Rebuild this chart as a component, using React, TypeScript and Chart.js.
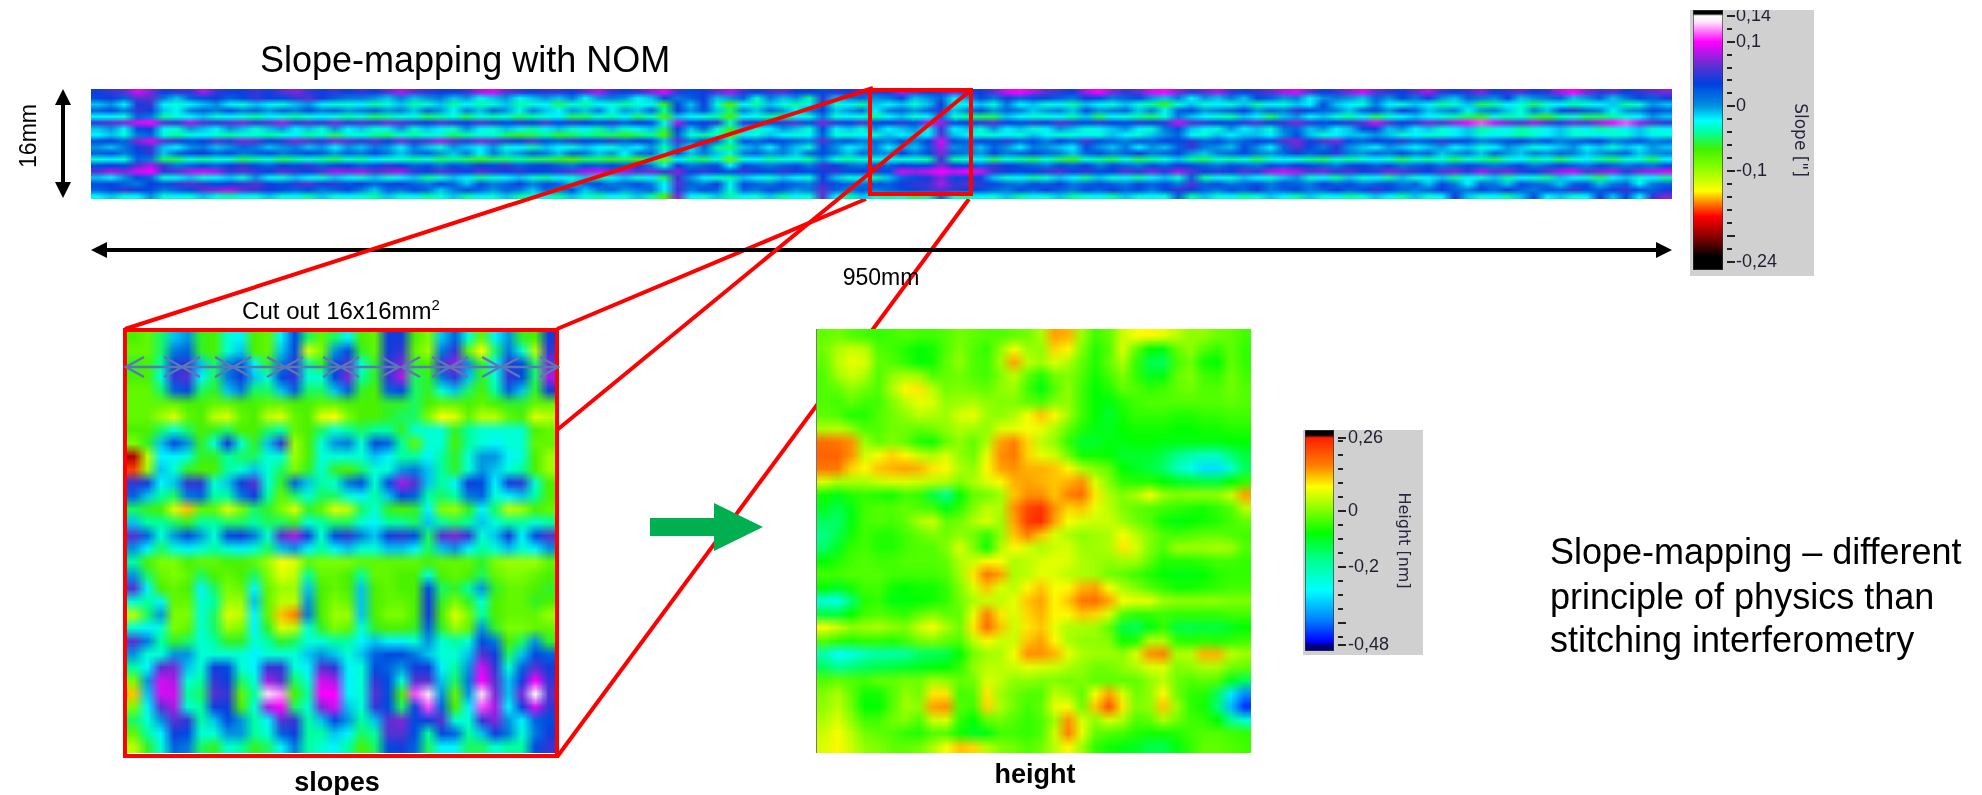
import React, { useEffect, useRef } from "react";
import { Chart, registerables } from "chart.js";
Chart.register(...registerables);

// Slope strip, 0.01 arcsec per unit, 18 rows along 950 mm
const stripRows: number[][] = [
[4,5,6,9,7,4,5,5,8,5,4,4,5,4,6,7,5,4,5,4, 5,4,6,8,6,5,4,4,5,8,9,6,5,4,5,5,4,6,8,5, 4,5,7,9,5,3,4,6,8,5,4,5,6,4,4,3,5,4,6,5, 4,8,6,4,5,7,5,4,6,9,10,8,6,5,4,8,10,7,5,6, 9,10,7,5,6,8,5,4,5,6,8,9,6,4,5,7,9,6,5,4, 6,8,5,4,5,7,4,5,6,4,5,8,10,7,5,6,4,5,6,7],
[3,4,2,6,6,1,-1,2,3,4,2,3,5,4,3,5,6,4,2,1, 1,0,-1,1,-1,0,1,-1,0,-2,-1,0,-2,-1,0,-1,1,-2,0,1, 0,-2,-1,3,1,2,4,-1,0,2,-3,1,-1,0,-4,5,-1,1,2,0, 1,3,-1,0,2,-2,0,3,1,4,2,3,3,2,1,4,3,1,2,3, 0,-1,1,-2,0,-1,1,-1,3,2,0,1,-2,0,1,0,-1,2,0,3, 1,4,0,-1,2,1,0,3,-1,0,1,2,-1,0,2,-1,1,3,2,4],
[-1,0,-2,4,5,-2,-3,-2,-1,0,-2,-3,-1,-2,-3,-1,0,-2,-3,-3, -2,-4,-3,-1,-4,-3,-1,-4,-2,-4,-3,-1,-4,-3,-2,-5,-3,-4,-2,-3, -4,-3,-2,-6,3,-1,4,-3,-7,-2,-4,-1,-3,-4,-2,3,-3,-2,-4,-1, -2,-1,-3,-1,4,-3,-2,-1,-3,1,-2,-1,-3,-2,-4,-1,-2,-3,-1,-3, -4,-6,-3,-1,-3,-2,-3,-1,-4,-2,-3,-1,-2,3,-1,-2,-3,1,-2,-3, -1,-2,-4,-3,-1,-5,-4,-2,-3,-5,-3,-2,-4,-3,-2,-1,-4,-3,0,-1],
[2,3,1,5,4,-1,-2,1,2,1,3,1,2,0,2,1,3,1,2,0, 1,2,0,1,-1,2,0,-2,1,-1,2,0,-2,1,-1,-2,0,-1,1,-2, 0,-1,2,-4,4,0,3,-1,-5,1,-1,2,0,-2,1,4,-1,0,2,-2, 1,2,0,2,5,-1,1,3,0,2,1,-1,0,1,-1,3,0,1,2,-1, 1,-2,2,3,0,1,2,4,0,2,1,5,3,2,1,-1,2,3,0,4, 2,-1,0,1,-2,0,1,-1,-3,1,-1,3,5,2,1,-2,0,1,3,2],
[-2,-2,-3,2,1,-4,-3,-2,-1,-3,-2,-3,-4,-2,-3,-4,-3,-2,-3,-4, -3,-5,-4,-3,-3,-5,-4,-3,-5,-3,-4,-3,-5,-4,-3,-2,-5,-5,-3,-4, -2,-5,-3,-7,-1,-2,-3,-4,-7,-2,-3,-4,-5,-2,-3,1,-3,-2,-3,-4, -2,-1,-3,-2,2,-3,-4,-5,-5,-1,-2,-3,-3,-2,-4,-1,-5,-2,-3,-4, -5,-3,1,-1,-2,-3,-4,-1,-2,-5,-1,0,-2,-1,-3,-4,-2,-5,-3,-2, -1,-2,-3,-4,-5,-6,-3,-4,-3,-5,-6,-4,-3,-5,-5,-4,-3,-2,0,-1],
[5,6,7,9,10,6,5,8,6,5,6,7,5,6,8,5,6,5,7,5, 6,5,7,6,5,4,6,5,4,6,5,3,5,4,6,3,5,4,3,5, 2,4,3,-2,8,3,4,5,-3,5,4,3,5,6,3,7,5,4,6,3, 4,5,3,8,8,3,4,5,6,4,3,5,4,6,5,3,5,4,3,5, 4,5,9,6,5,4,3,5,6,4,5,7,5,3,4,5,6,9,6,4, 5,7,6,8,10,11,9,7,6,8,6,5,7,6,8,10,11,8,6,5],
[-1,0,-2,3,4,-2,-3,0,-1,-2,0,-1,-3,-1,0,-2,-1,-3,0,-2, -1,-3,-2,0,-3,-1,-2,-3,0,-2,-3,-1,-2,-4,-2,-1,-3,-2,-4,-1, -3,-2,-1,-5,4,-1,2,-3,-6,-1,-3,-2,0,-1,-3,3,-2,-1,-3,0, -2,-1,0,-2,5,-2,-1,-3,0,-2,-1,-3,-2,0,-1,-3,-2,-1,0,-2, -3,1,3,-1,-2,-3,0,-2,-1,-3,1,2,-1,0,-2,-1,3,4,-1,0, -2,-1,-3,-2,-1,-4,-3,-2,-4,-3,-2,-1,-3,-2,-4,-3,-2,-1,-3,-2],
[-2,-1,-3,1,2,-3,-4,-3,-2,-3,-4,-3,-3,-4,-3,-2,-4,-3,-5,-3, -3,-4,-5,-3,-4,-3,-3,-5,-4,-3,-3,-5,-6,-5,-4,-6,-5,-4,-5,-5, -6,-5,-4,-7,2,-3,-4,-3,-7,-2,-3,-1,-2,-3,-2,2,-3,-3,-2,-3, -1,-2,-1,-2,6,-1,-2,-3,-3,-2,-3,-1,-2,-3,-3,-2,-3,-1,-2,-3, -1,0,2,-2,-3,-1,-2,-1,-1,-2,0,3,-1,-3,-2,-1,-1,0,-1,-3, -2,-3,-3,-2,-1,-3,-2,-3,-4,-3,-2,-1,-3,-3,-2,-3,-3,-1,-2,-3],
[3,4,2,7,9,6,5,3,4,6,5,7,6,4,5,7,6,5,7,6, 5,6,4,7,5,6,8,6,5,7,6,5,4,6,3,2,5,4,3,5, 2,4,3,-1,6,1,3,2,-3,3,2,4,3,2,1,6,2,3,1,2, 1,3,1,4,9,3,2,4,3,5,2,3,1,4,2,6,3,2,1,3, 2,4,3,5,2,3,1,2,4,3,6,7,4,6,7,3,2,4,3,5, 2,3,5,4,3,1,2,3,4,2,3,1,2,3,4,1,2,3,1,2],
[0,-1,1,4,5,-1,-2,0,1,-1,0,2,1,-1,0,1,-1,0,-2,0, -1,1,0,-2,1,-1,-3,0,-1,-2,0,-3,-2,-4,-1,-2,-3,-1,-2,-3, -1,-2,0,-4,1,-2,2,-4,-5,-1,0,-2,1,-1,-3,3,0,-2,-1,1, -2,0,-1,2,8,0,1,-1,2,0,-2,1,0,-1,-2,3,0,-1,1,-2, 0,-1,2,5,1,0,-1,3,0,-2,2,6,3,1,4,0,-1,-2,0,-1, -2,-1,0,-2,-1,-3,-2,0,-1,-3,-2,-1,0,-2,-1,-3,-1,-2,0,-1],
[2,3,1,3,5,-1,2,3,4,2,3,1,2,3,1,2,3,2,0,2, 1,3,1,-1,1,2,0,-1,1,-2,1,-1,0,2,1,-1,2,1,-1,0, -2,1,2,-2,3,-1,1,-1,-3,1,2,0,1,-1,2,3,1,-1,2,1, 0,4,1,3,7,2,1,0,3,1,2,3,2,1,-1,2,3,1,2,4, 1,2,3,0,-1,1,2,3,1,0,2,4,2,3,5,1,0,2,1,3, 1,2,-1,0,1,-1,2,0,-1,1,0,2,1,-1,0,1,2,-1,0,1],
[-3,-2,-3,2,1,-5,-5,-3,-4,-3,-3,-5,-4,-3,-5,-4,-3,-4,-5,-3, -4,-2,-3,-3,-4,-3,-5,-4,-5,-6,-5,-5,-4,-5,-5,-6,-7,-5,-5,-6, -5,-7,-4,-8,-2,-4,-5,-3,-8,-3,-2,-4,-3,-3,-4,0,-3,-4,-3,-3, -2,-3,-3,-4,5,-4,-3,-2,-5,-3,-4,-5,-3,-5,-6,-3,-4,-5,-3,-5, -4,-3,-1,-4,-5,-3,-4,-3,-5,-3,-2,-3,-4,-5,-3,-4,-3,-2,-3,-5, -3,-4,-3,-5,-3,-4,-5,-3,-2,-4,-3,-5,-3,-2,-4,-5,-3,-3,-5,-2],
[3,4,3,6,8,5,1,2,3,2,4,5,3,2,4,3,5,2,3,4, 2,3,5,4,2,3,1,3,2,4,3,5,2,3,4,2,1,3,2,3, 2,4,1,-3,4,1,2,3,-2,3,2,1,2,3,1,5,4,2,1,3, 2,4,3,3,7,4,3,2,5,4,3,2,1,3,2,4,1,3,2,1, 3,2,4,3,2,1,3,2,1,3,2,4,3,2,1,3,4,2,3,1, 2,3,1,2,3,2,1,2,3,1,2,3,2,1,3,2,1,2,1,3],
[6,8,7,9,10,5,6,8,9,8,5,6,5,4,6,5,4,6,8,7, 8,6,7,8,5,4,6,5,4,6,5,4,5,4,3,5,6,8,9,7, 8,6,7,5,7,4,5,4,3,5,4,3,5,4,3,4,5,3,4,5, 3,9,8,9,10,9,10,9,5,4,3,4,5,6,4,5,3,4,6,5, 7,5,8,6,4,5,4,6,5,8,9,8,6,7,5,6,4,5,7,6, 5,4,6,7,5,8,6,7,5,4,6,8,9,6,7,8,5,7,8,9],
[-1,-2,0,3,2,-3,-2,-1,-3,-2,-1,-3,0,-2,-3,-1,-2,-3,-1,-2, -3,-1,-3,-2,-1,-4,-3,-1,-2,-4,-3,-2,-1,-3,-4,-2,-3,-1,-4,-2, -1,-3,-2,-5,5,0,-2,-3,-4,-1,-2,-3,-1,-2,-3,4,-1,-3,-2,-4, -1,2,3,4,7,3,4,3,-1,-3,-2,-4,-3,-1,-2,-4,-1,-3,-2,-4, -2,-1,-3,2,-4,-2,-3,-1,-2,-3,-1,0,-3,-2,-4,-1,-3,-2,-4,-1, -3,-2,-1,-4,-2,-3,-1,-4,-2,-3,-4,-1,-2,-3,-5,-2,-1,-3,-2,-4],
[3,4,2,1,4,3,5,6,5,3,4,5,6,4,3,5,6,4,5,3, 4,2,3,4,2,1,3,2,-1,3,1,2,4,1,3,2,-1,2,3,1, 2,3,1,-2,6,2,1,4,-2,3,2,1,3,2,1,5,3,2,1,3, 2,4,5,5,8,5,6,5,3,2,1,3,2,4,1,2,3,2,1,3, 2,3,1,6,2,3,1,2,3,1,3,2,1,4,2,3,1,2,3,1, 2,-1,3,1,-2,2,1,-1,3,2,1,-1,2,3,-1,1,2,-2,1,2],
[2,3,5,4,3,1,2,3,6,7,8,6,5,4,3,2,3,1,2,3, 1,-1,2,1,3,2,-1,1,3,2,0,2,1,-1,2,1,3,-1,1,2, 0,1,2,-2,5,1,3,2,-3,2,1,3,2,0,1,6,2,1,3,1, 2,3,4,5,6,5,4,3,2,1,3,2,4,2,1,3,2,4,2,3, 1,3,5,4,2,1,3,2,4,1,2,3,1,2,4,2,3,5,3,2, 1,2,4,2,1,3,2,4,2,1,3,2,5,3,2,4,5,3,2,4],
[-2,-1,-3,-2,0,-3,-2,-3,-1,-3,-4,-2,-3,-1,-3,-2,-4,-1,-3,-2, -3,-4,-1,-3,-2,-4,-3,-1,-4,-2,-3,-1,-4,-3,-2,-4,-1,-3,-4,-2, -3,-1,-4,-7,7,-2,-3,-1,-4,-2,-3,-1,-4,-2,-3,6,-2,-4,-1,-3, -4,-3,-5,-4,2,-3,-4,-2,-3,-1,-4,-2,-3,-1,-4,-3,-2,-4,-1,-3, -2,-3,2,-4,-1,-3,-2,-4,-3,-1,-2,-4,-1,-3,-2,-4,-3,-1,-2,-4, -1,-3,-2,4,-1,-3,-2,-4,-1,3,-2,-1,-3,-2,4,-1,3,-2,5,7],
];

// Cut-out slope map, 0.01 arcsec per unit
const cutoutRows: number[][] = [
[-7,-8,-5,-1,0,-6,-7,-3,-2,-7,-8,-2,3,-5,-8,-5,-2,-7,-8,4,4,-7,-9,-1,2,-3,-8,-2,0,-6,-7,4],
[-8,-8,-5,1,2,-6,-7,-3,-1,-7,-8,-1,3,-12,-9,0,3,-6,-8,4,5,-8,-10,1,5,-8,-13,-5,1,-3,-11,5],
[-6,-7,-4,4,5,-1,-5,1,3,-2,-6,1,5,-4,-6,3,6,-3,-6,5,7,-6,-7,5,8,0,-6,-2,5,3,-5,7],
[-7,-7,-3,5,6,-2,-5,1,4,-1,-3,3,5,-3,-3,3,7,-4,-6,5,8,-5,-6,1,5,-1,-6,-3,5,3,-5,8],
[-8,-8,-5,2,3,-5,-6,-1,1,-5,-5,-1,2,-5,-5,-1,2,-6,-7,2,3,-5,-6,-3,-1,-5,-7,-4,2,-1,-6,4],
[-8,-8,-8,-8,-7,-7,-8,-8,-7,-7,-8,-8,-7,-7,-8,-8,-7,-7,-7,-6,-6,-5,-7,-8,-8,-7,-8,-7,-6,-6,-8,-8],
[-8,-8,-10,-12,-8,-7,-11,-12,-8,-7,-11,-12,-8,-7,-12,-13,-9,-7,-7,-6,-5,-5,-9,-13,-12,-8,-11,-11,-8,-7,-12,-11],
[-7,-7,-5,-3,-5,-7,-6,-5,-7,-7,-5,-4,-8,-7,-5,-3,-4,-5,-4,-4,-6,-3,-3,-3,-6,-4,-3,-3,-3,-3,-7,-8],
[-9,-6,-1,3,0,-6,-3,4,-3,-6,-1,5,-10,-7,-3,0,1,-3,3,2,-4,-8,-3,-3,-7,-4,-3,-2,-3,-3,-8,-8],
[-19,-11,-2,-2,-3,-6,-6,-4,-5,-5,-3,-3,-10,-7,-3,-3,-3,-3,-1,-2,-4,-4,-2,-4,-6,-3,0,0,-2,-3,-7,-10],
[-16,-10,-1,-3,-6,-7,-7,-4,-3,-1,-3,-5,-9,-6,-3,-6,-7,-5,-3,-3,0,1,-1,-4,-6,-3,0,-1,-3,-4,-7,-10],
[5,4,-2,-1,5,5,-3,-1,4,6,-3,-6,2,-1,-4,-3,1,3,-3,3,8,6,-1,-4,-2,4,3,-2,4,5,-3,-7],
[2,-1,-4,-5,1,2,-4,-4,1,4,-4,-8,-5,-3,-5,-5,-3,-2,-4,-1,3,2,-4,-5,-4,1,2,-3,-2,-1,-4,-7],
[-5,-6,-7,-12,-14,-8,-8,-12,-9,-5,-6,-9,-12,-6,-8,-12,-11,-5,-3,-6,-7,-6,-2,-9,-10,-6,-2,-5,-11,-10,-7,-8],
[-1,-4,-4,-5,-6,-4,-4,-5,-5,-4,-5,-5,-6,-3,-4,-5,-5,-3,-2,-4,-4,-5,-1,-4,-5,-4,-1,-3,-4,-4,-3,-4],
[6,2,-3,0,3,0,-3,3,4,1,-3,6,8,4,-3,3,5,1,-1,4,5,3,-5,6,7,5,-3,-1,4,-2,3,6],
[0,-2,-5,-3,-2,-3,-4,-3,-2,-3,-5,-1,0,-2,-4,-2,-1,-3,-3,-1,-1,-2,-5,-1,0,-2,-4,-3,-1,-3,-2,0],
[-4,-7,-9,-9,-7,-8,-8,-7,-7,-8,-10,-13,-12,-8,-9,-9,-9,-8,-8,-8,-8,-8,-7,-8,-8,-8,-6,-9,-10,-10,-10,-8],
[0,-5,-8,-9,-8,-5,-7,-8,-7,-5,-9,-12,-11,-4,-8,-8,-7,-4,-8,-8,-7,-7,-3,-7,-8,-7,-5,-8,-9,-9,-8,-7],
[6,-2,-7,-8,-7,-2,-5,-9,-8,-2,-8,-10,-10,-1,-7,-8,-7,-1,-7,-8,-7,-7,3,-5,-6,-4,0,-6,-8,-8,-7,-6],
[-3,-4,-2,-8,-8,-3,-4,-10,-10,-1,-8,-11,-11,0,-7,-9,-8,-1,-7,-8,-8,-7,4,-6,-9,-6,-3,-7,-8,-8,-6,-7],
[-11,-5,0,-9,-9,-3,-5,-12,-11,-2,-8,-14,-15,1,-7,-10,-10,-1,-7,-9,-9,-7,4,-7,-12,-9,-4,-7,-8,-8,-8,-10],
[-3,-2,-3,-9,-8,-3,-5,-10,-9,-2,-6,-12,-11,-3,-6,-9,-8,-3,-6,-7,-7,-6,2,-6,-10,-8,0,-6,-9,-9,-8,-8],
[6,1,-4,-6,-5,-3,-4,-6,-6,-3,-4,-6,-5,-3,-3,-4,-4,-2,-1,-2,-2,-3,0,-3,-4,-3,3,1,-7,-5,0,-6],
[0,-3,-3,0,0,-3,-3,-3,-3,-2,-3,-3,-3,-1,0,-1,-3,-1,2,3,3,1,-1,-3,-3,-1,6,4,-5,-1,3,2],
[-4,-2,6,7,-1,-3,4,3,-3,-2,5,5,-3,-2,6,5,-2,-3,3,2,0,4,4,-2,-4,0,9,5,-3,2,6,4],
[-9,0,9,8,-3,-4,5,4,-5,-3,8,6,-5,-3,9,8,-2,-3,5,3,-3,6,6,-1,-5,1,10,6,-1,4,10,5],
[-14,-1,9,9,-4,-5,6,5,-8,-4,13,12,-7,-4,10,10,-2,-3,6,3,-7,11,13,0,-8,0,13,7,-1,7,14,6],
[-9,-2,6,8,-3,-4,4,4,-7,-3,8,10,-5,-3,7,9,-1,-3,5,3,-5,4,11,2,-7,-2,11,8,-2,4,9,5],
[-5,-3,0,6,5,-4,-1,3,0,-4,-2,6,5,-4,-1,3,0,-4,-1,6,7,3,4,6,-3,-3,5,7,0,-2,2,3],
[-8,-4,-2,4,3,-3,-3,0,0,-4,-3,2,4,-4,-4,-1,-2,-5,-4,6,6,3,-4,3,2,-4,-1,4,1,-3,1,4],
[-11,-6,-3,2,1,-5,-6,-3,-4,-6,-5,-2,1,-4,-3,-2,-4,-7,-5,3,4,2,-5,-2,-2,-5,-5,-3,-4,-4,3,5],
];

// Height map, 0.01 nm per unit
const heightRows: number[][] = [
[-2,-1,-3,-4,-5,-4,-3,-4,-4,-3,-1,-2,-3,-3,-2,-1,3,14,13,2,-4,-2,5,8,9,7,4,1,1,-1,-2,-4],
[-1,3,5,4,-3,-4,-6,-8,-7,-3,0,-3,-5,1,8,2,1,11,9,0,-6,-3,6,-2,-8,-9,-2,1,-3,-5,-2,-5],
[-2,4,7,6,-2,-3,-5,-8,-7,-2,1,-3,-4,2,14,4,2,6,3,-2,-6,-2,3,-5,-13,-14,-4,-1,-7,-8,-2,-5],
[-3,2,5,3,-3,1,3,2,-3,-2,-1,-3,-4,0,4,-2,-6,-1,0,-3,-7,-4,0,-5,-10,-9,-2,0,-4,-5,-1,-4],
[-3,-2,1,-1,-3,3,9,10,4,-1,0,-1,-2,1,2,-4,-9,-3,1,-4,-8,-6,-2,-3,-5,-4,-2,-1,-3,-3,-1,-3],
[-3,-4,-2,-4,-4,0,4,7,6,1,2,3,1,0,0,-2,-3,0,1,-4,-8,-9,-6,-4,-3,-3,-3,-3,-3,-3,-2,-3],
[-2,-3,-6,-6,-3,-1,1,4,3,2,6,7,2,1,3,8,12,9,2,-4,-8,-11,-7,-5,-5,-5,-6,-6,-5,-5,-4,-4],
[3,4,1,-3,-3,-1,-1,-2,-1,1,3,2,1,6,7,8,7,3,-2,-6,-9,-10,-8,-7,-7,-7,-8,-8,-7,-7,-6,-6],
[18,17,15,2,-2,0,-2,-6,-7,-2,1,-2,3,14,16,11,4,1,-5,-11,-11,-9,-9,-8,-8,-9,-9,-9,-9,-9,-8,-8],
[19,19,15,5,8,11,9,5,3,6,1,-1,7,15,17,11,7,5,-1,-7,-7,-8,-11,-11,-11,-13,-17,-20,-22,-22,-16,-12],
[17,17,11,9,12,13,14,13,10,9,3,1,9,14,15,13,13,12,9,3,0,-2,-8,-10,-12,-15,-22,-26,-31,-31,-24,-14],
[6,3,3,3,5,6,6,5,4,3,0,3,6,9,13,14,13,12,13,15,6,0,-5,-6,-6,-8,-10,-11,-12,-12,-8,-5],
[-7,-9,-6,-5,-6,-7,-4,-5,-12,-18,-8,-2,-1,2,12,15,15,12,16,18,10,3,0,3,8,2,0,1,1,1,5,14],
[-10,-13,-9,-4,-3,-3,-2,-3,-4,-9,-5,0,4,3,15,22,24,15,11,12,7,4,0,-2,-3,-4,-5,-6,-7,-5,-3,4],
[-14,-15,-9,-4,-3,-4,-2,3,5,-2,-1,3,6,2,14,23,25,14,8,6,5,5,2,-1,-3,-7,-9,-8,-7,-6,-4,-2],
[-17,-13,-7,-4,-6,-6,-4,-2,0,-1,1,-1,-5,1,12,16,12,6,3,1,2,3,8,4,0,-3,-4,-3,-2,-2,-3,-4],
[-15,-10,-5,-4,-6,-6,-4,-3,-3,0,6,0,-7,3,9,6,3,5,6,2,2,3,10,6,0,-3,2,2,2,3,2,-3],
[-8,-6,-4,-3,-4,-4,-3,-3,-3,-2,3,5,9,8,3,4,6,7,6,3,2,1,2,2,-2,-6,-6,-6,-5,-4,-4,-5],
[-4,-4,-3,-3,-3,-4,-4,-4,-4,-3,2,10,17,14,3,4,7,6,4,3,2,-1,-2,-4,-6,-8,-9,-9,-8,-6,-5,-5],
[-8,-10,-7,-4,-4,-7,-8,-7,-7,-5,0,6,12,6,4,9,12,8,9,13,14,8,3,0,-3,-5,-7,-7,-6,-5,-4,-4],
[-25,-27,-16,-6,-5,-9,-9,-8,-7,-5,-1,3,5,4,7,12,14,9,12,17,18,14,8,7,7,2,1,1,1,1,0,0],
[-12,-12,-8,-4,-3,-4,-5,-2,0,-2,-2,7,16,10,6,11,13,9,9,12,11,6,-3,-5,-5,-4,-5,-5,-5,-5,-4,-4],
[8,5,1,2,3,1,0,5,8,3,-1,10,18,12,5,10,12,7,3,3,2,-2,-12,-14,-9,-5,-12,-13,-12,-12,-10,-8],
[-3,-5,-6,-5,-5,-6,-4,-1,0,-2,-3,4,9,5,5,12,14,9,3,1,1,0,-7,-6,3,3,-5,-6,-5,-6,-5,-4],
[-21,-28,-26,-22,-20,-20,-19,-15,-14,-13,-8,-1,2,3,8,15,15,13,7,3,2,2,1,6,15,16,3,4,13,13,4,2],
[-14,-18,-16,-14,-13,-12,-11,-10,-9,-8,-5,1,4,4,5,7,6,5,3,1,-1,-1,1,3,6,6,0,1,3,3,-1,-2],
[-3,-2,-3,-4,-2,-2,-1,-1,2,1,-2,-1,6,4,1,1,0,0,-1,0,-2,-2,-2,-2,1,4,-1,-3,-2,-3,-10,-14],
[0,3,-2,-7,-7,-3,1,-1,10,10,-4,-3,10,2,-1,-3,-3,4,2,-2,8,14,6,-1,1,9,-1,-5,-6,-14,-30,-38],
[1,4,-1,-8,-8,-3,2,1,14,15,-3,-4,11,3,-1,-4,-2,7,8,-1,12,21,10,0,1,12,2,-5,-7,-16,-34,-44],
[3,6,1,-4,-4,-1,0,-3,5,6,-5,-8,-2,-1,-3,-5,-3,2,15,6,1,6,3,-3,-2,3,-1,-4,-5,-8,-18,-24],
[5,8,4,-1,-2,-3,-5,-6,-3,-3,-7,-10,-9,-4,-4,-5,-3,5,16,7,-2,-3,-4,-6,-7,-7,-6,-4,-3,-3,-4,-5],
[6,9,5,1,0,-2,-2,-1,3,8,12,11,4,0,-1,-3,-1,4,9,2,-5,-7,-9,-10,-13,-13,-9,-5,-2,-2,-3,-4],
];

type Stop = [number, [number, number, number]];

const slopeStops: Stop[] = [
  [15, [0,0,0]], [14.3, [0,0,0]], [14, [255,255,255]], [13, [255,225,250]], [10, [255,0,255]],
  [6.3, [96,48,208]], [3.5, [0,64,224]], [0.1, [0,144,224]], [-2.2, [0,255,255]],
  [-4, [0,255,160]], [-6.6, [64,240,0]], [-9.2, [128,255,0]], [-13.1, [255,255,0]],
  [-14.7, [255,144,0]], [-17, [255,0,0]], [-20, [144,0,0]], [-23.2, [0,0,0]], [-26, [0,0,0]],
];
const heightStops: Stop[] = [
  [29, [0,0,0]], [27, [0,0,0]], [26, [255,32,0]], [16, [255,128,0]], [8.6, [255,255,0]],
  [0, [128,255,0]], [-8, [0,255,0]], [-17.6, [0,255,144]], [-28.3, [0,255,255]],
  [-39, [0,128,255]], [-46.8, [0,0,255]], [-48, [0,0,120]], [-50, [0,0,120]],
];

const slopeTicks = [14,12,10,8,6,4,2,0,-2,-4,-6,-8,-10,-12,-14,-16,-18,-20,-22,-24];
const slopeLabels: Record<number,string> = { 14:"0,14", 10:"0,1", 0:"0", [-10]:"-0,1", [-24]:"-0,24" };
const slopeMajor = [14,10,0,-10,-20,-24];
const heightTicks = [26,25,20,15,10,5,0,-5,-10,-15,-20,-25,-30,-35,-40,-45,-48];
const heightLabels: Record<number,string> = { 26:"0,26", 0:"0", [-20]:"-0,2", [-48]:"-0,48" };
const heightMajor = [26,0,-20,-40,-48];

const FONT = '"Liberation Sans", Arial, sans-serif';

function colorAt(stops: Stop[], v: number): [number, number, number] {
  if (v >= stops[0][0]) return stops[0][1];
  for (let i = 1; i < stops.length; i++) {
    if (v >= stops[i][0]) {
      const [a, ca] = stops[i - 1];
      const [b, cb] = stops[i];
      const t = (v - b) / (a - b);
      return [0, 1, 2].map((k) => cb[k] + (ca[k] - cb[k]) * t) as [number, number, number];
    }
  }
  return stops[stops.length - 1][1];
}

function toCells(rows: number[][]) {
  const cells: { x: number; y: number; v: number }[] = [];
  rows.forEach((row, y) => row.forEach((v, x) => cells.push({ x, y, v })));
  return cells;
}

const heatPlugin = (stops: Stop[], cols: number, nrows: number) => ({
  id: "heatGrid",
  beforeDatasetsDraw(chart: any) {
    const off = document.createElement("canvas");
    off.width = cols;
    off.height = nrows;
    const oc = off.getContext("2d")!;
    const img = oc.createImageData(cols, nrows);
    for (const d of chart.data.datasets[0].data) {
      const c = colorAt(stops, d.v);
      const i = (d.y * cols + d.x) * 4;
      img.data[i] = c[0]; img.data[i + 1] = c[1]; img.data[i + 2] = c[2]; img.data[i + 3] = 255;
    }
    oc.putImageData(img, 0, 0);
    const { x, y } = chart.scales;
    const x0 = x.getPixelForValue(-0.5), x1 = x.getPixelForValue(cols - 0.5);
    const y0 = y.getPixelForValue(-0.5), y1 = y.getPixelForValue(nrows - 0.5);
    const ctx = chart.ctx;
    ctx.save();
    ctx.imageSmoothingEnabled = true;
    ctx.imageSmoothingQuality = "low";
    ctx.drawImage(off, x0, y0, x1 - x0, y1 - y0);
    ctx.restore();
  },
});

function Heat({ rows, stops, left, top, width, height }: any) {
  const ref = useRef<HTMLCanvasElement>(null);
  useEffect(() => {
    const cols = rows[0].length;
    const chart = new Chart(ref.current!, {
      type: "scatter",
      data: { datasets: [{ data: toCells(rows), pointRadius: 0 }] },
      options: {
        animation: false, responsive: false, devicePixelRatio: 1,
        layout: { padding: 0 },
        plugins: { legend: { display: false }, tooltip: { enabled: false } },
        scales: {
          x: { type: "linear", display: false, min: -0.5, max: cols - 0.5 },
          y: { type: "linear", display: false, reverse: true, min: -0.5, max: rows.length - 0.5 },
        },
      },
      plugins: [heatPlugin(stops, cols, rows.length)],
    } as any);
    return () => chart.destroy();
  }, []);
  return <canvas ref={ref} width={width} height={height} style={{ position: "absolute", left, top, width, height }} />;
}

function ColorBar({ stops, ticks, labels, major, title, left, top, width, height, barLeft, axisWidth, min, max, padTop, padBottom, titlePad, labelPad, titleSize }: any) {
  const ref = useRef<HTMLCanvasElement>(null);
  useEffect(() => {
    const tickPlugin = {
      id: "barTicks",
      afterLayout(chart: any) {
        const y = chart.scales.y;
        const g = chart.ctx.createLinearGradient(0, y.getPixelForValue(max), 0, y.getPixelForValue(min));
        for (const [v, col] of stops as Stop[]) {
          const p = Math.min(1, Math.max(0, (max - v) / (max - min)));
          g.addColorStop(p, `rgb(${col[0]},${col[1]},${col[2]})`);
        }
        chart.data.datasets[0].backgroundColor = g;
      },
      beforeDraw(chart: any) {
        const c = chart.ctx;
        c.save();
        c.fillStyle = "#d0d0d0";
        c.fillRect(0, 0, chart.width, chart.height);
        c.restore();
      },
      afterDraw(chart: any) {
        const c = chart.ctx, y = chart.scales.y, x0 = chart.chartArea.right + 4;
        c.save();
        c.fillStyle = "#222";
        for (const t of ticks) {
          const py = Math.round(y.getPixelForValue(t));
          c.fillRect(x0, py - 1, major.includes(t) ? 8 : 5, 2);
        }
        c.restore();
      },
    };
    const chart = new Chart(ref.current!, {
      type: "bar",
      data: {
        labels: [title],
        datasets: [{
          data: [[min, max]],
          barPercentage: 1, categoryPercentage: 1,
          borderColor: "#333", borderWidth: 1, borderSkipped: false,
          backgroundColor: "#000",
        }],
      },
      options: {
        animation: false, responsive: false, devicePixelRatio: 1,
        layout: { padding: { left: barLeft, top: padTop, bottom: padBottom, right: 0 } },
        plugins: { legend: { display: false }, tooltip: { enabled: false } },
        scales: {
          x: { display: false, offset: true, grid: { display: false } },
          y: {
            type: "linear", position: "right", min, max,
            grid: { display: false }, border: { display: false },
            afterBuildTicks: (s: any) => { s.ticks = ticks.map((value: number) => ({ value })); },
            afterFit: (s: any) => { s.width = axisWidth; s.paddingTop = 0; s.paddingBottom = 0; },
            ticks: {
              autoSkip: false, padding: labelPad, color: "#1f1f33",
              font: { family: FONT, size: 18 },
              callback: (v: number) => labels[v] ?? "",
            },
            title: {
              display: true, text: title, color: "#2a2440",
              font: { family: '"DejaVu Sans", sans-serif', size: titleSize },
              padding: titlePad,
            },
          },
        },
      },
      plugins: [tickPlugin],
    } as any);
    return () => chart.destroy();
  }, []);
  return <canvas ref={ref} width={width} height={height} style={{ position: "absolute", left, top, width, height }} />;
}

function Txt({ x, y, size, bold, anchor, children, rotate }: any) {
  const tx = anchor === "middle" ? "-50%" : "0";
  return (
    <div style={{
      position: "absolute", left: x, top: y, fontFamily: FONT, fontSize: size, color: "#000",
      fontWeight: bold ? 700 : 400, whiteSpace: "nowrap", lineHeight: 1,
      transform: `translate(${tx},-50%)${rotate ? ` rotate(${rotate}deg)` : ""}`,
    }}>{children}</div>
  );
}

const layerStyle: React.CSSProperties = { position: "absolute", left: 0, top: 0, pointerEvents: "none" };
const RED = "#ff0000";
const arrowBlue = "#5b78b5";
const cutArrows = [[126,182],[182,233],[233,285],[285,341],[341,399],[402,450],[450,500],[502,558]];

export default function App() {
  return (
    <div style={{ position: "absolute", left: 0, top: 0, width: 1982, height: 795, overflow: "hidden", background: "#fff" }}>
      <svg width={1982} height={795} style={layerStyle}>
        <line x1={866} y1={199} x2={557} y2={329} stroke={RED} strokeWidth={4} />
        <line x1={969} y1={199} x2={557} y2={757} stroke={RED} strokeWidth={4} />
        <line x1={105} y1={250} x2={1658} y2={250} stroke="#000" strokeWidth={4} />
        <polygon points="91,250 107,242 107,258" fill="#000" />
        <polygon points="1672,250 1656,242 1656,258" fill="#000" />
        <line x1={63} y1={103} x2={63} y2={184} stroke="#000" strokeWidth={4} />
        <polygon points="63,89 55,105 71,105" fill="#000" />
        <polygon points="63,198 55,182 71,182" fill="#000" />
        <rect x={650} y={518} width={66} height={18} fill="#00b050" />
        <polygon points="714,503 763,527 714,551" fill="#00b050" />
      </svg>

      <Heat rows={stripRows} stops={slopeStops} left={91} top={89} width={1581} height={110} />
      <Heat rows={cutoutRows} stops={slopeStops} left={127} top={331} width={428} height={422} />
      <Heat rows={heightRows} stops={heightStops} left={817} top={329} width={434} height={424} />

      <ColorBar stops={slopeStops} ticks={slopeTicks} labels={slopeLabels} major={slopeMajor} title={'Slope ["]'}
        left={1690} top={10} width={124} height={266} barLeft={3} axisWidth={91} min={-25.3} max={14.9}
        padTop={0} padBottom={6} titlePad={{ top: 4, bottom: 0 }} labelPad={5} titleSize={17} />
      <ColorBar stops={heightStops} ticks={heightTicks} labels={heightLabels} major={heightMajor} title="Height [nm]"
        left={1303} top={430} width={120} height={225} barLeft={2} axisWidth={89} min={-50} max={28.8}
        padTop={0} padBottom={4} titlePad={{ top: 10, bottom: 0 }} labelPad={6} titleSize={16} />

      <svg width={1982} height={795} style={layerStyle}>
        <line x1={873} y1={88} x2={125} y2={329} stroke={RED} strokeWidth={4} />
        <line x1={971} y1={90} x2={557} y2={430} stroke={RED} strokeWidth={4} />
        <rect x={870} y={90} width={101} height={104} fill="none" stroke={RED} strokeWidth={4} />
        <rect x={125} y={330} width={432} height={426} fill="none" stroke={RED} strokeWidth={4} />
        <line x1={816.5} y1={329} x2={816.5} y2={753} stroke="#777" strokeWidth={1} />
        {cutArrows.map(([a, b], i) => (
          <g key={i} stroke={arrowBlue} strokeWidth={2.5} fill="none">
            <line x1={a} y1={367} x2={b} y2={367} />
            <polyline points={`${a + 18},357 ${a},367 ${a + 18},377`} />
            <polyline points={`${b - 18},357 ${b},367 ${b - 18},377`} />
          </g>
        ))}
      </svg>

      <Txt x={260} y={60} size={36}>Slope-mapping with NOM</Txt>
      <Txt x={28} y={136} size={23} anchor="middle" rotate={-90}>16mm</Txt>
      <Txt x={881} y={277} size={23} anchor="middle">950mm</Txt>
      <Txt x={341} y={311} size={24} anchor="middle">Cut out 16x16mm<sup style={{ fontSize: 15, lineHeight: 0 }}>2</sup></Txt>
      <Txt x={337} y={782} size={27} bold anchor="middle">slopes</Txt>
      <Txt x={1035} y={774} size={27} bold anchor="middle">height</Txt>
      <Txt x={1550} y={552} size={36}>Slope-mapping – different</Txt>
      <Txt x={1550} y={597} size={36}>principle of physics than</Txt>
      <Txt x={1550} y={640} size={36}>stitching interferometry</Txt>
    </div>
  );
}
